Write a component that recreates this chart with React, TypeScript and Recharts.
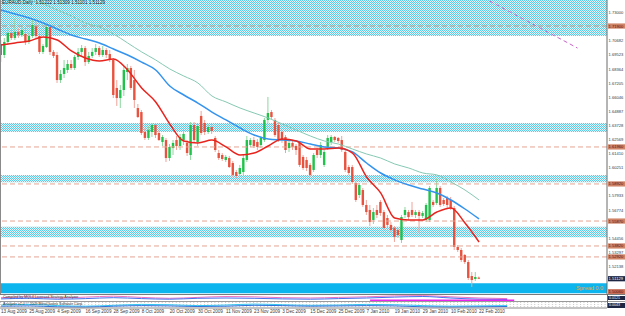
import { ComposedChart, LineChart, Line, Bar, XAxis, YAxis, ReferenceArea, ReferenceLine } from 'recharts'

// EURAUD daily, 13 Aug 2009 .. 22 Feb 2010 (bar index 0..136)
const opens = [
  1.7042, 1.6952, 1.7059, 1.7133, 1.7092, 1.7141, 1.7116, 1.7125, 1.7059, 1.7108,
  1.7190, 1.7108, 1.6977, 1.7018, 1.7182, 1.6977, 1.6952, 1.6746, 1.6796, 1.6829,
  1.6878, 1.6845, 1.6936, 1.6977, 1.7009, 1.6894, 1.6944, 1.6977, 1.7009, 1.6952,
  1.6993, 1.6960, 1.6911, 1.6681, 1.6598, 1.6664, 1.6812, 1.6845, 1.6746, 1.6516,
  1.6483, 1.6319, 1.6270, 1.6319, 1.6377, 1.6311, 1.6237, 1.6253, 1.6105, 1.6187,
  1.6253, 1.6204, 1.6253, 1.6229, 1.6130, 1.6377, 1.6237, 1.6451, 1.6393, 1.6319,
  1.6360, 1.6270, 1.6146, 1.6130, 1.6089, 1.6105, 1.6064, 1.5990, 1.5974, 1.5990,
  1.6089, 1.6212, 1.6253, 1.6237, 1.6212, 1.6253, 1.6418, 1.6483, 1.6418, 1.6377,
  1.6319, 1.6278, 1.6187, 1.6229, 1.6204, 1.6229, 1.6114, 1.6089, 1.6048, 1.6007,
  1.6171, 1.6130, 1.6048, 1.6196, 1.6237, 1.6278, 1.6270, 1.6253, 1.6155, 1.6031,
  1.6031, 1.5900, 1.5801, 1.5842, 1.5719, 1.5678, 1.5596, 1.5678, 1.5744, 1.5661,
  1.5612, 1.5555, 1.5530, 1.5513, 1.5431, 1.5637, 1.5661, 1.5678, 1.5637, 1.5661,
  1.5629, 1.5596, 1.5596, 1.5744, 1.5735, 1.5859, 1.5760, 1.5776, 1.5760, 1.5694,
  1.5374, 1.5349, 1.5308, 1.5250, 1.5135, 1.5111, 1.5122,
]
const highs = [
  1.7075, 1.7092, 1.7174, 1.7157, 1.7256, 1.7174, 1.7190, 1.7174, 1.7133, 1.7240,
  1.7223, 1.7125, 1.7042, 1.7199, 1.7199, 1.6993, 1.6977, 1.6829, 1.6911, 1.6911,
  1.6911, 1.6952, 1.7009, 1.7034, 1.7026, 1.6977, 1.7009, 1.7042, 1.7026, 1.7026,
  1.7009, 1.6993, 1.6927, 1.6746, 1.6705, 1.6862, 1.6878, 1.6862, 1.6829, 1.6549,
  1.6500, 1.6352, 1.6368, 1.6393, 1.6393, 1.6335, 1.6294, 1.6270, 1.6220, 1.6253,
  1.6286, 1.6303, 1.6335, 1.6253, 1.6401, 1.6401, 1.6385, 1.6492, 1.6418, 1.6385,
  1.6385, 1.6286, 1.6171, 1.6146, 1.6130, 1.6122, 1.6081, 1.6007, 1.6048, 1.6130,
  1.6286, 1.6270, 1.6278, 1.6261, 1.6286, 1.6434, 1.6607, 1.6500, 1.6434, 1.6393,
  1.6335, 1.6294, 1.6253, 1.6253, 1.6220, 1.6245, 1.6130, 1.6114, 1.6064, 1.6146,
  1.6187, 1.6237, 1.6171, 1.6294, 1.6294, 1.6286, 1.6278, 1.6286, 1.6171, 1.6048,
  1.6048, 1.5916, 1.5900, 1.5859, 1.5760, 1.5719, 1.5694, 1.5719, 1.5760, 1.5678,
  1.5637, 1.5579, 1.5546, 1.5530, 1.5637, 1.5703, 1.5678, 1.5744, 1.5678, 1.5678,
  1.5670, 1.5735, 1.5875, 1.5760, 1.5941, 1.5875, 1.5776, 1.5793, 1.5785, 1.5711,
  1.5390, 1.5365, 1.5316, 1.5267, 1.5168, 1.5168, 1.5131,
]
const lows = [
  1.6894, 1.6927, 1.7034, 1.7075, 1.7075, 1.7092, 1.7100, 1.7034, 1.7042, 1.7092,
  1.7092, 1.6960, 1.6960, 1.7009, 1.6952, 1.6927, 1.6722, 1.6722, 1.6763, 1.6804,
  1.6829, 1.6829, 1.6911, 1.6944, 1.6862, 1.6878, 1.6927, 1.6952, 1.6936, 1.6936,
  1.6927, 1.6894, 1.6598, 1.6533, 1.6516, 1.6615, 1.6746, 1.6664, 1.6516, 1.6434,
  1.6294, 1.6253, 1.6253, 1.6278, 1.6270, 1.6245, 1.6204, 1.6072, 1.6081, 1.6130,
  1.6171, 1.6171, 1.6212, 1.6122, 1.6089, 1.6229, 1.6204, 1.6294, 1.6294, 1.6303,
  1.6303, 1.6155, 1.6089, 1.6081, 1.6072, 1.6023, 1.5949, 1.5941, 1.5957, 1.5966,
  1.6072, 1.6196, 1.6187, 1.6171, 1.6187, 1.6237, 1.6393, 1.6426, 1.6278, 1.6237,
  1.6229, 1.6146, 1.6155, 1.6171, 1.6130, 1.6031, 1.6007, 1.5998, 1.5949, 1.5990,
  1.6105, 1.6105, 1.6031, 1.6171, 1.6212, 1.6237, 1.6229, 1.6155, 1.5990, 1.5966,
  1.5892, 1.5744, 1.5776, 1.5703, 1.5637, 1.5546, 1.5563, 1.5612, 1.5629, 1.5513,
  1.5538, 1.5497, 1.5415, 1.5448, 1.5407, 1.5612, 1.5596, 1.5620, 1.5612, 1.5489,
  1.5612, 1.5579, 1.5579, 1.5703, 1.5719, 1.5703, 1.5711, 1.5694, 1.5678, 1.5349,
  1.5333, 1.5250, 1.5234, 1.5102, 1.5045, 1.5094, 1.5110,
]
const closes = [
  1.6952, 1.7059, 1.7133, 1.7092, 1.7141, 1.7116, 1.7157, 1.7059, 1.7108, 1.7199,
  1.7108, 1.6977, 1.7026, 1.7182, 1.6977, 1.6944, 1.6746, 1.6796, 1.6845, 1.6878,
  1.6845, 1.6936, 1.6977, 1.7009, 1.6894, 1.6944, 1.6977, 1.7009, 1.6952, 1.6993,
  1.6952, 1.6911, 1.6623, 1.6598, 1.6664, 1.6829, 1.6845, 1.6681, 1.6582, 1.6442,
  1.6311, 1.6270, 1.6335, 1.6377, 1.6294, 1.6253, 1.6278, 1.6105, 1.6196, 1.6229,
  1.6204, 1.6278, 1.6303, 1.6146, 1.6377, 1.6253, 1.6368, 1.6311, 1.6319, 1.6360,
  1.6327, 1.6171, 1.6105, 1.6097, 1.6114, 1.6031, 1.5966, 1.5957, 1.6023, 1.6105,
  1.6253, 1.6253, 1.6204, 1.6196, 1.6270, 1.6418, 1.6475, 1.6442, 1.6294, 1.6253,
  1.6253, 1.6171, 1.6229, 1.6196, 1.6171, 1.6048, 1.6023, 1.6023, 1.5966, 1.6130,
  1.6130, 1.6212, 1.6155, 1.6270, 1.6278, 1.6253, 1.6245, 1.6171, 1.6007, 1.5982,
  1.5908, 1.5760, 1.5883, 1.5719, 1.5661, 1.5579, 1.5661, 1.5637, 1.5653, 1.5530,
  1.5555, 1.5513, 1.5456, 1.5472, 1.5620, 1.5678, 1.5620, 1.5637, 1.5661, 1.5629,
  1.5653, 1.5719, 1.5859, 1.5719, 1.5859, 1.5719, 1.5727, 1.5719, 1.5694, 1.5374,
  1.5349, 1.5267, 1.5250, 1.5119, 1.5102, 1.5127, 1.5113,
]

// moving averages, read every 4th bar
const maIdx = [0, 4, 8, 12, 16, 20, 24, 28, 32, 36, 40, 44, 48, 52, 56, 60, 64, 68, 72, 76, 80, 84, 88, 92, 96, 100, 104, 108, 112, 116, 120, 124, 128, 132, 136]
const maRed = [1.7034, 1.7051, 1.7067, 1.71, 1.7075, 1.6985, 1.6927, 1.6903, 1.6919, 1.6829, 1.6681, 1.6566, 1.6385, 1.6245, 1.6229, 1.6253, 1.6196, 1.613, 1.6146, 1.6204, 1.6261, 1.6245, 1.6179, 1.6179, 1.6187, 1.6146, 1.5949, 1.5818, 1.5612, 1.5596, 1.5596, 1.5661, 1.5694, 1.5571, 1.5415]
const maBlue = [1.7322, 1.7289, 1.7256, 1.7215, 1.7166, 1.7116, 1.7083, 1.7051, 1.7001, 1.6952, 1.6894, 1.6829, 1.6697, 1.6623, 1.6557, 1.6483, 1.6418, 1.6352, 1.6294, 1.6261, 1.6253, 1.6245, 1.622, 1.6196, 1.6187, 1.6155, 1.6064, 1.5982, 1.5925, 1.5883, 1.585, 1.5818, 1.576, 1.5686, 1.5604]
const maTeal = [1.7503, 1.7453, 1.7404, 1.7371, 1.7322, 1.7273, 1.7215, 1.7182, 1.7125, 1.7051, 1.6977, 1.6911, 1.6837, 1.6779, 1.6722, 1.6615, 1.6566, 1.6516, 1.6475, 1.6434, 1.6385, 1.6335, 1.6286, 1.6245, 1.622, 1.6179, 1.6138, 1.6105, 1.6056, 1.6023, 1.5982, 1.5966, 1.5908, 1.5842, 1.576]

// price scale labels that are not hidden behind the level tags
const yTicks = [1.73, 1.70682, 1.69523, 1.68364, 1.67205, 1.66046, 1.64887, 1.63728, 1.62569, 1.6141, 1.60251, 1.57933, 1.56774, 1.54456, 1.53297, 1.52138]
const levelPrices = [1.719, 1.6196, 1.5892, 1.5587, 1.5382, 1.5292]
const zones: [number, number][] = [[1.7108, 1.7404], [1.6319, 1.6393], [1.5906, 1.5966], [1.5454, 1.5541]]
const lastPrice = 1.51129

const dateIdx = [0, 8, 16, 24, 32, 40, 48, 56, 64, 72, 80, 88, 96, 104, 112, 120, 128, 136]
const dateLabels = ['13 Aug 2009', '25 Aug 2009', '4 Sep 2009', '16 Sep 2009', '28 Sep 2009', '8 Oct 2009', '20 Oct 2009', '30 Oct 2009', '11 Nov 2009', '23 Nov 2009', '3 Dec 2009', '15 Dec 2009', '25 Dec 2009', '7 Jan 2010', '19 Jan 2010', '29 Jan 2010', '10 Feb 2010', '22 Feb 2010']

// sub-window oscillators, every 8th bar
const subIdx = [0, 8, 16, 24, 32, 40, 48, 56, 64, 72, 80, 88, 96, 104, 112, 120, 128, 136, 144]
const subPink = [0.55, 0.7, 0.5, 0.65, 0.8, 0.6, 0.45, 0.6, 0.75, 0.7, 0.55, 0.5, 0.6, 0.7, 0.85, 0.9, 0.7, 0.5, 0.4]
const subBlue = [0.35, 0.45, 0.3, 0.4, 0.55, 0.4, 0.3, 0.45, 0.5, 0.45, 0.35, 0.3, 0.4, 0.5, 0.65, 0.75, 0.5, 0.3, 0.25]
const subCyan = [0.5, 0.6, 0.4, 0.3, 0.45, 0.6, 0.55, 0.4, 0.5, 0.65, 0.55, 0.45, 0.5, 0.6, 0.55, 0.4, 0.3, 0.35, 0.4]
const subNavy = [0.3, 0.35, 0.2, 0.15, 0.3, 0.4, 0.35, 0.25, 0.3, 0.45, 0.4, 0.3, 0.35, 0.4, 0.35, 0.2, 0.15, 0.2, 0.25]

const X_DOMAIN: [number, number] = [-0.3, 172.4]
const Y_DOMAIN: [number, number] = [1.49873, 1.7404]
const FONT = 'Arial, "Liberation Sans", sans-serif'
const AXIS_FONT = 4.1

const candles = opens.map((open, i) => ({ i, open, high: highs[i], low: lows[i], close: closes[i] }))
const maData = maIdx.map((i, k) => ({ i, red: maRed[k], blue: maBlue[k], teal: maTeal[k] }))
const subData = subIdx.map((i, k) => ({ i, pink: subPink[k], blue: subBlue[k], cyan: subCyan[k], navy: subNavy[k] }))
const magentaData = [{ i: 105, v: 0.12 }, { i: 146, v: 0.12 }]

function Candle(props: any) {
  const { x, y, width, height, payload } = props
  if (!payload) return null
  const { open, close, high, low } = payload
  const cx = x + width / 2
  const span = high - low || 1e-6
  const py = (v: number) => y + ((high - v) / span) * height
  const up = close >= open
  const top = py(Math.max(open, close))
  const bottom = py(Math.min(open, close))
  return (
    <g>
      <line x1={cx} x2={cx} y1={y} y2={y + height} stroke={up ? '#8fd6a0' : '#f0a49a'} strokeWidth={1} />
      <rect x={cx - 1.2} y={top} width={2.4} height={Math.max(bottom - top, 0.8)} fill={up ? '#1fc24a' : '#e8533f'} />
    </g>
  )
}

function PriceTick(props: any) {
  const { y, payload } = props
  // labels sit just right of the price axis line (x = 607)
  return (
    <text x={608.6} y={y + 1.5} fontSize={AXIS_FONT} fill="#3a3a3a" fontFamily={FONT}>
      {payload.value.toFixed(5)}
    </text>
  )
}

function DateTick(props: any) {
  const { x, y, payload } = props
  const k = dateIdx.indexOf(payload.value)
  return (
    <text x={x} y={y + 4.6} fontSize={4.6} fill="#3a3a3a" fontFamily={FONT}>
      {dateLabels[k]}
    </text>
  )
}

const tag = (fill: string, color: string, text: string) => (props: any) => {
  const vb = props.viewBox || {}
  const left = (vb.x ?? 0) + (vb.width ?? 607) + 1
  return (
    <g>
      <rect x={left} y={vb.y - 2.6} width={18} height={5.2} fill={fill} />
      <text x={left + 0.6} y={vb.y + 1.5} fontSize={AXIS_FONT} fill={color} fontFamily={FONT}>{text}</text>
    </g>
  )
}

export default function App() {
  return (
    <div style={{ position: 'absolute', left: 0, top: 0, width: 625, height: 316, background: '#fff', overflow: 'hidden', fontFamily: FONT }}>
      <ComposedChart width={625} height={294} data={candles} margin={{ top: 0, right: 0, bottom: 0, left: 0 }}>
        <defs>
          <pattern id="hatch" width="2" height="2" patternUnits="userSpaceOnUse">
            <rect width="2" height="2" fill="#e4f7fc" />
            <rect width="1" height="1" fill="#5ccbe8" />
            <rect x="1" y="1" width="1" height="1" fill="#5ccbe8" />
          </pattern>
        </defs>
        <XAxis type="number" dataKey="i" domain={X_DOMAIN} allowDataOverflow hide />
        <YAxis
          orientation="right"
          width={18}
          domain={Y_DOMAIN}
          allowDataOverflow
          ticks={yTicks}
          interval={0}
          tick={<PriceTick />}
          tickLine={false}
          tickSize={0}
          tickMargin={0}
          axisLine={{ stroke: '#6a6a6a' }}
        />
        {zones.map(([a, b], k) => (
          <ReferenceArea key={k} y1={a} y2={b} fill="url(#hatch)" fillOpacity={1} stroke="none" />
        ))}
        <ReferenceArea
          y1={1.4993}
          y2={1.5075}
          fill="#0db5ee"
          fillOpacity={1}
          stroke="none"
          label={{ value: 'Spread 0.0', position: 'insideRight', fill: '#f2a33a', fontSize: 5.5, offset: 4 }}
        />
        {levelPrices.map((p, k) => (
          <ReferenceLine
            key={p}
            y={p}
            stroke={k === 0 ? '#b39a8c' : '#e6a492'}
            strokeDasharray="5 3"
            label={{ content: tag('#cf8468', '#5a1010', p.toFixed(5)) }}
          />
        ))}
        <ReferenceLine y={1.5006} stroke="none" label={{ content: tag('#c9705a', '#5a1010', '1.50060') }} />
        <ReferenceLine y={lastPrice} stroke="none" label={{ content: tag('#1d2744', '#ffffff', lastPrice.toFixed(5)) }} />
        <Bar dataKey={(d: any) => [d.low, d.high]} barSize={3} shape={(p: any) => <Candle {...p} />} isAnimationActive={false} />
        <Line data={maData} dataKey="teal" type="monotone" stroke="#86c9b4" strokeWidth={1} dot={false} isAnimationActive={false} />
        <Line data={maData} dataKey="blue" type="monotone" stroke="#3393ee" strokeWidth={1.5} dot={false} isAnimationActive={false} />
        <Line data={maData} dataKey="red" type="monotone" stroke="#e8241e" strokeWidth={1.5} dot={false} isAnimationActive={false} />
        <ReferenceLine
          segment={[{ x: 139, y: 1.7396 }, { x: 164, y: 1.7009 }]}
          stroke="#c864c8"
          strokeDasharray="4 3"
        />
      </ComposedChart>

      <div style={{ position: 'absolute', left: 2, top: 1, fontSize: 4.6, color: '#222', whiteSpace: 'nowrap', lineHeight: 1 }}>
        EURAUD,Daily&nbsp;&nbsp;1.51222 1.51309 1.51101 1.51129
      </div>
      <div style={{ position: 'absolute', left: 0, top: 0, width: 1, height: 294, background: '#8a8a8a' }} />

      <div style={{ position: 'absolute', left: 0, top: 294, width: 625, height: 1, background: '#7a7a7a' }} />
      <div style={{ position: 'absolute', left: 0, top: 295 }}>
        <LineChart width={625} height={6} margin={{ top: 0, right: 18, bottom: 0, left: 0 }}>
          <XAxis type="number" dataKey="i" domain={X_DOMAIN} allowDataOverflow hide />
          <YAxis domain={[0, 1]} hide />
          <Line data={subData} dataKey="pink" type="monotone" stroke="#f070c0" strokeWidth={1} dot={false} isAnimationActive={false} />
          <Line data={subData} dataKey="blue" type="monotone" stroke="#4a70f0" strokeWidth={1} dot={false} isAnimationActive={false} />
          <Line data={magentaData} dataKey="v" stroke="#ee22ee" strokeWidth={1.6} dot={false} isAnimationActive={false} />
        </LineChart>
      </div>
      <div style={{ position: 'absolute', left: 3, top: 296, fontSize: 3.6, color: '#333', whiteSpace: 'nowrap', lineHeight: 1 }}>
        Compiled by MQL4 Licensed Strategy Analyzer
      </div>
      <div style={{ position: 'absolute', left: 0, top: 301, width: 625, height: 1, background: '#9a9a9a' }} />
      <div style={{ position: 'absolute', left: 0, top: 302 }}>
        <LineChart width={625} height={14} margin={{ top: 0, right: 18, bottom: 0, left: 0 }}>
          <defs>
            <pattern id="vlines" width="3.515" height="2" patternUnits="userSpaceOnUse">
              <rect width="1" height="1" fill="#c8c8c8" />
            </pattern>
          </defs>
          <XAxis
            type="number"
            dataKey="i"
            domain={X_DOMAIN}
            allowDataOverflow
            ticks={dateIdx}
            interval={0}
            height={8}
            tick={<DateTick />}
            tickLine={false}
            tickSize={0}
            tickMargin={0}
            axisLine={{ stroke: '#8a8a8a' }}
          />
          <YAxis domain={[0, 1]} hide />
          <ReferenceArea y1={0} y2={1} fill="url(#vlines)" fillOpacity={1} stroke="none" />
          <Line data={subData} dataKey="cyan" type="monotone" stroke="#33c6f2" strokeWidth={1} dot={false} isAnimationActive={false} />
          <Line data={subData} dataKey="navy" type="monotone" stroke="#2f6fd8" strokeWidth={1} dot={false} isAnimationActive={false} />
        </LineChart>
      </div>
      <div style={{ position: 'absolute', left: 3, top: 302.5, fontSize: 3.6, color: '#333', whiteSpace: 'nowrap', lineHeight: 1 }}>
        Analyzer v1.0 © 2009 MetaQuotes Software Corp.
      </div>
      <div style={{ position: 'absolute', left: 607, top: 294, width: 1, height: 14, background: '#6a6a6a' }} />
      <div style={{ position: 'absolute', left: 608, top: 295.5, width: 17, height: 4.5, background: '#1d2744', color: '#fff', fontSize: 3.6, lineHeight: '4.5px', paddingLeft: 1 }}>0.0121</div>
      <div style={{ position: 'absolute', left: 608, top: 303, width: 17, height: 4.5, background: '#1d2744', color: '#fff', fontSize: 3.6, lineHeight: '4.5px', paddingLeft: 1 }}>0.0043</div>
    </div>
  )
}
